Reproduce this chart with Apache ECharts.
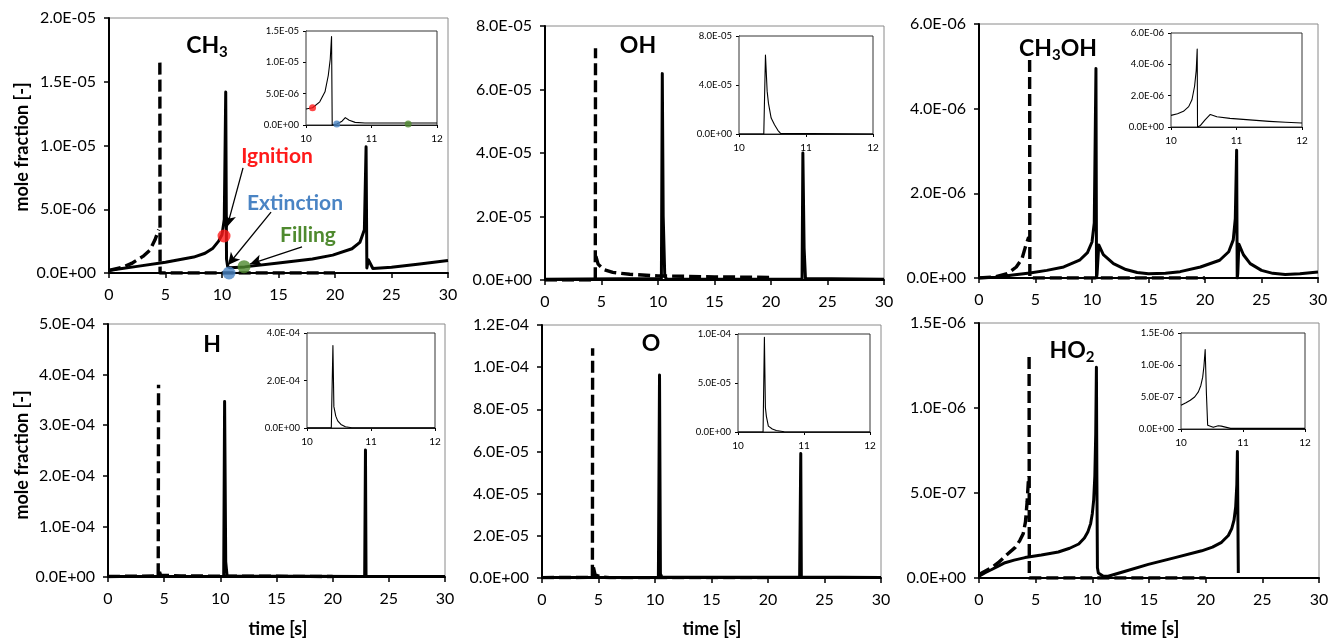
<!DOCTYPE html>
<html>
<head>
<meta charset="utf-8">
<script src="https://cdn.jsdelivr.net/npm/echarts@6/dist/echarts.min.js"></script>
<style>
html,body{margin:0;padding:0;background:#fff;}
#c{width:1331px;height:641px;}
</style>
</head>
<body>
<div id="c"></div>
<script>
// ---------------- DATA (time [s], mole fraction [-]); '-' marks a pen-up gap ----------------
const speciesNames = ['CH3', 'OH', 'CH3OH', 'H', 'O', 'HO2'];

const ch3Solid = [[0,0.2e-6],[1,0.33e-6],[2.5,0.52e-6],[5,0.85e-6],[7.5,1.25e-6],[8.5,1.55e-6],[9.2,1.95e-6],[9.7,2.5e-6],[10.0,3.0e-6],[10.2,4.2e-6],[10.33,14.2e-6],[10.4,1.1e-6],[10.5,0.5e-6],[10.7,0.42e-6],[12,0.48e-6],[15,0.78e-6],[18,1.1e-6],[19.8,1.4e-6],[21.5,1.9e-6],[22.2,2.4e-6],[22.6,3.4e-6],[22.75,9.9e-6],[22.82,0.4e-6],[22.95,1.05e-6],[23.1,0.9e-6],[23.35,0.35e-6],[25,0.45e-6],[27.5,0.7e-6],[30,0.98e-6]];
const ch3Dash = [[0,0.2e-6],[1.2,0.45e-6],[2.0,0.75e-6],[3.0,1.3e-6],[3.63,1.8e-6],[4.07,2.6e-6],[4.4,3.4e-6],[4.45,'-'],[4.5,16.5e-6],[4.52,0],[20,0]];
const ch3Inset = [[10,2.55e-6],[10.1,2.75e-6],[10.21,3.7e-6],[10.29,5.3e-6],[10.34,7.9e-6],[10.37,10.5e-6],[10.39,14.1e-6],[10.4,0],[10.47,0.15e-6],[10.55,0.6e-6],[10.6,1.17e-6],[10.66,0.75e-6],[10.75,0.42e-6],[10.9,0.33e-6],[12,0.32e-6]];
const ch3MainDots = [[10.18,2.9e-6],[10.62,0],[11.95,0.5e-6]];
const ch3InsetDots = [[10.1,2.75e-6],[10.47,0.16e-6],[11.56,0.16e-6]];
const dotNames = ['Ignition','Extinction','Filling'];
// arrows: [from, to] in data units of CH3 main plot
const ch3Arrows = [[[11.86,8.24e-6],[10.44,3.6e-6]],[[14.34,4.78e-6],[10.53,0.63e-6]],[[17.08,2.04e-6],[12.48,0.7e-6]]];

const ohSolid = [[0,0.02e-5],[10.3,0.05e-5],[10.38,6.5e-5],[10.46,2.0e-5],[10.6,0.1e-5],[10.8,0.02e-5],[22.75,0.02e-5],[22.82,4.0e-5],[22.93,1.0e-5],[23.05,0.05e-5],[30,0.02e-5]];
const ohDash = [[0,0],[4.45,0],[4.47,7.3e-5],[4.48,'-'],[4.5,0.75e-5],[4.7,0.5e-5],[5.2,0.33e-5],[6,0.24e-5],[7.5,0.18e-5],[10,0.13e-5],[15,0.1e-5],[20,0.08e-5]];
const ohInset = [[10,0],[10.37,0],[10.395,6.45e-5],[10.42,3.5e-5],[10.44,2.5e-5],[10.48,1.3e-5],[10.53,0.75e-5],[10.58,0.3e-5],[10.62,0.05e-5],[12,0]];

const ch3ohSolid = [[0,0],[1.5,0.02e-6],[3,0.07e-6],[4.5,0.12e-6],[6,0.18e-6],[7.5,0.26e-6],[8.9,0.42e-6],[9.6,0.6e-6],[10,0.85e-6],[10.2,1.3e-6],[10.35,4.95e-6],[10.4,0],[10.45,0.1e-6],[10.6,0.78e-6],[11,0.55e-6],[11.9,0.34e-6],[13,0.2e-6],[14,0.13e-6],[15,0.1e-6],[16.5,0.11e-6],[17.8,0.15e-6],[19.6,0.26e-6],[21.3,0.42e-6],[22.1,0.62e-6],[22.5,0.9e-6],[22.68,1.4e-6],[22.8,3.02e-6],[22.85,0],[22.9,0.1e-6],[23.0,0.8e-6],[23.4,0.55e-6],[24,0.34e-6],[25,0.18e-6],[26,0.11e-6],[27.1,0.08e-6],[28.4,0.1e-6],[30,0.14e-6]];
const ch3ohDash = [[0,0],[1.5,0.03e-6],[2.5,0.1e-6],[3.3,0.26e-6],[3.8,0.45e-6],[4.1,0.73e-6],[4.4,0.97e-6],[4.44,'-'],[4.48,5.15e-6],[4.5,0],[20,0]];
const ch3ohInset = [[10,0.74e-6],[10.1,0.85e-6],[10.19,1.0e-6],[10.27,1.3e-6],[10.32,1.74e-6],[10.36,2.6e-6],[10.385,3.6e-6],[10.4,4.98e-6],[10.405,0],[10.45,0.1e-6],[10.52,0.45e-6],[10.6,0.8e-6],[10.7,0.65e-6],[10.9,0.55e-6],[11.15,0.47e-6],[11.5,0.36e-6],[11.75,0.3e-6],[12,0.26e-6]];

const hSolid = [[0,0.01e-4],[10.3,0.01e-4],[10.38,3.47e-4],[10.48,0.3e-4],[10.6,0.02e-4],[22.85,0.01e-4],[22.92,2.51e-4],[22.97,0.01e-4],[30,0.01e-4]];
const hDash = [[0,0.01e-4],[4.47,0.02e-4],[4.5,3.8e-4],[4.52,'-'],[4.58,0.1e-4],[4.7,0.03e-4],[5.5,0.03e-4],[6.5,0.02e-4],[20,0.01e-4]];
const hInset = [[10,0.01e-4],[10.38,0.02e-4],[10.405,3.47e-4],[10.42,0.9e-4],[10.45,0.5e-4],[10.48,0.3e-4],[10.53,0.15e-4],[10.6,0.05e-4],[10.7,0.01e-4],[12,0.01e-4]];

const oSolid = [[0,0.02e-5],[10.3,0.03e-5],[10.4,9.63e-5],[10.48,0.2e-5],[10.6,0.05e-5],[22.8,0.03e-5],[22.9,5.9e-5],[22.95,0.05e-5],[30,0.02e-5]];
const oDash = [[0,0.02e-5],[4.46,0.03e-5],[4.48,10.9e-5],[4.5,'-'],[4.55,0.5e-5],[4.7,0.15e-5],[5.2,0.05e-5],[6,0.02e-5],[20,0.02e-5]];
const oInset = [[10,0],[10.38,0.02e-5],[10.4,9.66e-5],[10.415,2.5e-5],[10.43,1.6e-5],[10.46,0.6e-5],[10.52,0.3e-5],[10.58,0.15e-5],[10.7,0.03e-5],[12,0]];

const ho2Solid = [[0,0.01e-6],[0.5,0.03e-6],[1.12,0.05e-6],[1.7,0.07e-6],[2.3,0.09e-6],[3.1,0.105e-6],[4.06,0.12e-6],[5.5,0.135e-6],[7,0.153e-6],[8,0.175e-6],[8.8,0.2e-6],[9.3,0.235e-6],[9.6,0.27e-6],[9.85,0.32e-6],[10.0,0.38e-6],[10.12,0.46e-6],[10.22,0.6e-6],[10.3,0.85e-6],[10.36,1.24e-6],[10.4,0.6e-6],[10.45,0.06e-6],[10.53,0.03e-6],[10.97,0.01e-6],[11.4,0.01e-6],[12.9,0.04e-6],[14.94,0.08e-6],[17.3,0.12e-6],[19.65,0.16e-6],[20.6,0.182e-6],[21.4,0.21e-6],[22,0.25e-6],[22.3,0.29e-6],[22.5,0.34e-6],[22.65,0.42e-6],[22.75,0.55e-6],[22.8,0.744e-6],[22.88,0.03e-6]];
const ho2Dash = [[0,0.02e-6],[1.1,0.06e-6],[1.7,0.09e-6],[2.5,0.14e-6],[3.2,0.18e-6],[3.6,0.22e-6],[3.9,0.26e-6],[4.1,0.33e-6],[4.25,0.45e-6],[4.38,0.6e-6],[4.4,'-'],[4.42,1.3e-6],[4.44,0],[5,0],[20,0]];
const ho2Inset = [[10,0.37e-6],[10.08,0.41e-6],[10.15,0.45e-6],[10.22,0.5e-6],[10.28,0.58e-6],[10.32,0.68e-6],[10.35,0.81e-6],[10.37,0.98e-6],[10.39,1.24e-6],[10.41,0.55e-6],[10.43,0.06e-6],[10.52,0.026e-6],[10.6,0.05e-6],[10.65,0.045e-6],[10.8,0.01e-6],[12,0.01e-6]];

// axis ranges
const mainXRange = [0, 30, 5];
const insetXRange = [10, 12, 1];
const mainYMax = [2e-5, 8e-5, 6e-6, 5e-4, 1.2e-4, 1.5e-6];
const mainYStep = [5e-6, 2e-5, 2e-6, 1e-4, 2e-5, 5e-7];
const insetYMax = [1.5e-5, 8e-5, 6e-6, 4e-4, 1e-4, 1.5e-6];
const insetYStep = [5e-6, 4e-5, 2e-6, 2e-4, 5e-5, 5e-7];

const solidSets = [ch3Solid, ohSolid, ch3ohSolid, hSolid, oSolid, ho2Solid];
const dashSets = [ch3Dash, ohDash, ch3ohDash, hDash, oDash, ho2Dash];
const insetSets = [ch3Inset, ohInset, ch3ohInset, hInset, oInset, ho2Inset];

// ---------------- LAYOUT ----------------
const FONT = 'Lato';
const mainGrids = [
  {left:109, top:18, width:339, height:255},
  {left:545, top:26, width:339, height:254},
  {left:979, top:24, width:339, height:254},
  {left:108, top:324, width:337, height:253},
  {left:542, top:325, width:339, height:253},
  {left:979, top:323, width:340, height:255}
];
const insetGrids = [
  {left:306, top:31, width:131, height:94},
  {left:739, top:36, width:134, height:98},
  {left:1171, top:33, width:131, height:94},
  {left:307, top:333, width:128, height:95},
  {left:738, top:334, width:132, height:98},
  {left:1181, top:333, width:124, height:96}
];

function sci(v) {
  if (Math.abs(v) < 1e-30) return '0.0E+00';
  let e = Math.floor(Math.log10(Math.abs(v)) + 1e-9);
  let m = v / Math.pow(10, e);
  let ms = m.toFixed(1);
  if (ms === '10.0') { ms = '1.0'; e += 1; }
  const sign = e < 0 ? '-' : '+';
  const ea = Math.abs(e);
  return ms + 'E' + sign + (ea < 10 ? '0' + ea : '' + ea);
}

const grids = [], xAxes = [], yAxes = [], series = [];

for (let i = 0; i < 6; i++) {
  grids.push(Object.assign({show:true, borderColor:'#8a8a8a', borderWidth:1, backgroundColor:'transparent', outerBoundsMode:'none', containLabel:false}, mainGrids[i]));
}
for (let i = 0; i < 6; i++) {
  grids.push(Object.assign({show:true, borderColor:'#333', borderWidth:1, backgroundColor:'#fff', outerBoundsMode:'none', containLabel:false, z:5}, insetGrids[i]));
}

for (let i = 0; i < 6; i++) {
  xAxes.push({
    type:'value', gridIndex:i, min:mainXRange[0], max:mainXRange[1], interval:mainXRange[2],
    axisLine:{show:true, onZero:false, lineStyle:{color:'#000', width:2}},
    axisTick:{show:true, length:5, lineStyle:{color:'#000', width:1.5}},
    axisLabel:{fontFamily:FONT, fontSize:16, color:'#000', margin:14},
    splitLine:{show:false}
  });
  yAxes.push({
    type:'value', gridIndex:i, min:0, max:mainYMax[i], interval:mainYStep[i],
    axisLine:{show:true, onZero:false, lineStyle:{color:'#000', width:2}},
    axisTick:{show:true, length:5, lineStyle:{color:'#000', width:1.5}},
    axisLabel:{fontFamily:FONT, fontSize:16, color:'#000', margin:13, formatter:sci},
    splitLine:{show:false}
  });
}
for (let i = 0; i < 6; i++) {
  xAxes.push({
    type:'value', gridIndex:6+i, min:insetXRange[0], max:insetXRange[1], interval:insetXRange[2],
    axisLine:{show:true, onZero:false, lineStyle:{color:'#000', width:1}},
    axisTick:{show:true, length:3, lineStyle:{color:'#000', width:1}},
    axisLabel:{fontFamily:FONT, fontSize:10, color:'#000', margin:9},
    splitLine:{show:false}
  });
  yAxes.push({
    type:'value', gridIndex:6+i, min:0, max:insetYMax[i], interval:insetYStep[i],
    axisLine:{show:true, onZero:false, lineStyle:{color:'#000', width:1}},
    axisTick:{show:true, length:3, lineStyle:{color:'#000', width:1}},
    axisLabel:{fontFamily:FONT, fontSize:9.5, color:'#000', margin:7, formatter:sci},
    splitLine:{show:false}
  });
}

for (let i = 0; i < 6; i++) {
  series.push({
    name: speciesNames[i] + ' dashed', type:'line', xAxisIndex:i, yAxisIndex:i,
    data: dashSets[i], showSymbol:false, symbol:'none', silent:true, connectNulls:false,
    lineStyle:{color:'#000', width:3.4, type:[12,5], join:'round'}, z:2
  });
  series.push({
    name: speciesNames[i], type:'line', xAxisIndex:i, yAxisIndex:i,
    data: solidSets[i], showSymbol:false, symbol:'none', silent:true,
    lineStyle:{color:'#000', width:3, join:'round'}, z:3
  });
  series.push({
    name: speciesNames[i] + ' inset', type:'line', xAxisIndex:6+i, yAxisIndex:6+i,
    data: insetSets[i], showSymbol:false, symbol:'none', silent:true,
    lineStyle:{color:'#000', width:1.1, join:'round'}, z:6
  });
}

const dotColors = ['#ff1a1a', '#4a84c4', '#4f8a2f'];
series.push({
  name:'events', type:'scatter', xAxisIndex:0, yAxisIndex:0, clip:false, silent:true,
  symbolSize:13, z:8,
  data: ch3MainDots.map((p, k) => ({name:dotNames[k], value:p, itemStyle:{color:dotColors[k]}})),
  markLine:{
    silent:true, symbol:['none','arrow'], symbolSize:[9,12], animation:false,
    label:{show:false}, lineStyle:{color:'#000', width:1.3, type:'solid'},
    emphasis:{disabled:true},
    data: ch3Arrows.map(a => [{coord:a[0]}, {coord:a[1]}])
  }
});
series.push({
  name:'events inset', type:'scatter', xAxisIndex:6, yAxisIndex:6, clip:false, silent:true,
  symbolSize:7, z:9,
  data: ch3InsetDots.map((p, k) => ({name:dotNames[k], value:p, itemStyle:{color:dotColors[k]}}))
});

// ---------------- TEXT ----------------
const titleRich = {
  b:{fontFamily:FONT, fontWeight:'bold', fontSize:23, color:'#000'},
  s:{fontFamily:FONT, fontWeight:'bold', fontSize:15, color:'#000', padding:[13,0,0,0]}
};
function title(txt, x, y) {
  return {type:'text', x:x, y:y, z:100, silent:true,
    style:{text:txt, rich:titleRich, align:'center', verticalAlign:'middle', fill:'#000'}};
}
function plain(txt, x, y, font, color, rot) {
  return {type:'text', x:x, y:y, rotation:rot||0, z:100, silent:true,
    style:{text:txt, font:font, fill:color, align:'center', verticalAlign:'middle'}};
}
const graphics = [
  title('{b|CH}{s|3}', 207, 46),
  title('{b|OH}', 638, 46),
  title('{b|CH}{s|3}{b|OH}', 1058, 49),
  title('{b|H}', 212, 345),
  title('{b|O}', 651, 344),
  title('{b|HO}{s|2}', 1072, 351),
  plain('mole fraction [-]', 22, 147, 'bold 18px Lato', '#000', Math.PI/2),
  plain('mole fraction [-]', 22, 455, 'bold 18px Lato', '#000', Math.PI/2),
  plain('time [s]', 278, 629, 'bold 18px Lato', '#000'),
  plain('time [s]', 712, 629, 'bold 18px Lato', '#000'),
  plain('time [s]', 1150, 629, 'bold 18px Lato', '#000'),
  plain('Ignition', 277, 156, 'bold 21px Lato', '#ff1a1a'),
  plain('Extinction', 295, 203, 'bold 21px Lato', '#4a84c4'),
  plain('Filling', 308, 235, 'bold 21px Lato', '#4f8a2f')
];

const chart = echarts.init(document.getElementById('c'), null, {renderer:'canvas'});
chart.setOption({
  backgroundColor:'#fff',
  animation:false,
  grid: grids,
  xAxis: xAxes,
  yAxis: yAxes,
  series: series,
  graphic: graphics
});
</script>
</body>
</html>
